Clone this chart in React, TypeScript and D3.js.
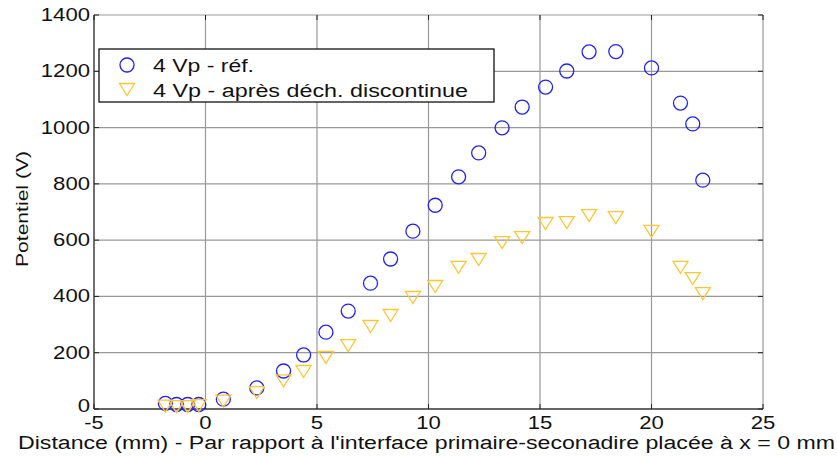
import * as d3 from "d3";

// distance (mm) of each measurement point
const distances = [-1.8, -1.3, -0.8, -0.3, 0.8, 2.3, 3.5, 4.4, 5.4, 6.4, 7.4, 8.3, 9.3,
  10.3, 11.35, 12.25, 13.3, 14.2, 15.25, 16.2, 17.2, 18.4, 20.0, 21.3, 21.85, 22.3];

// 4 Vp - réf.
const refValues = [20, 16, 16, 16, 35, 75, 135, 192, 273, 348, 447, 533, 632,
  724, 825, 910, 999, 1073, 1144, 1201, 1269, 1270, 1212, 1087, 1013, 813];

// 4 Vp - après déch. discontinue
const afterValues = [12, 10, 10, 14, 30, 60, 102, 135, 185, 227, 295, 334, 398,
  437, 505, 533, 593, 611, 661, 664, 689, 682, 633, 505, 465, 412];

const xTicks = [-5, 0, 5, 10, 15, 20, 25];
const yTicks = [0, 200, 400, 600, 800, 1000, 1200, 1400];

const legendLabels = ["4 Vp - réf.", "4 Vp - après déch. discontinue"];

const W = 837;
const H = 457;
const BLUE = "#2020ff";
const YELLOW = "#ffc633";
const FONT = "'Liberation Sans', Arial, sans-serif";

// width of a tick label, the picture's glyphs are a bit wider than the font
const labelWidth = (t: number) => {
  const s = String(t);
  return s.replace("-", "").length * 12.3 + (s.startsWith("-") ? 7 : 0);
};

export default function App() {
  const x = d3.scaleLinear().domain([-5, 25]).range([94, 763]);
  const y = d3.scaleLinear().domain([0, 1400]).range([409, 15]);
  const [x0, x1] = x.range();
  const [y0, y1] = y.range();

  const tri = (cx: number, cy: number) =>
    `M${cx - 7.5},${cy - 5.5}L${cx + 7.5},${cy - 5.5}L${cx},${cy + 6.5}Z`;

  const txt = (size: number) => ({ fontSize: `${size}px`, fontFamily: FONT });

  return (
    <svg width={W} height={H} style={{ position: "absolute", left: 0, top: 0, background: "#fff" }}>
      {/* grid */}
      {xTicks.slice(1, -1).map(t => (
        <line key={"gx" + t} x1={x(t)} x2={x(t)} y1={y1} y2={y0} stroke="#999" strokeWidth={1.2} />
      ))}
      {yTicks.slice(1, -1).map(t => (
        <line key={"gy" + t} x1={x0} x2={x1} y1={y(t)} y2={y(t)} stroke="#999" strokeWidth={1.2} />
      ))}
      {/* frame */}
      <line x1={x0} x2={x1} y1={y1} y2={y1} stroke="#999" strokeWidth={1.2} />
      <line x1={x1} x2={x1} y1={y1} y2={y0} stroke="#999" strokeWidth={1.2} />
      <line x1={x0} x2={x1} y1={y0} y2={y0} stroke="#333" strokeWidth={1.4} />
      <line x1={x0} x2={x0} y1={y1} y2={y0} stroke="#333" strokeWidth={1.4} />
      {/* ticks */}
      {xTicks.map(t => (
        <g key={"tx" + t}>
          <line x1={x(t)} x2={x(t)} y1={y0} y2={y0 - 5} stroke="#222" />
          <line x1={x(t)} x2={x(t)} y1={y1} y2={y1 + 5} stroke="#222" />
          <text x={x(t)} y={y0 + 20} style={txt(19)} textAnchor="middle" fill="#111"
            textLength={labelWidth(t)} lengthAdjust="spacingAndGlyphs">{t}</text>
        </g>
      ))}
      {yTicks.map(t => (
        <g key={"ty" + t}>
          <line x1={x0} x2={x0 + 5} y1={y(t)} y2={y(t)} stroke="#222" />
          <line x1={x1} x2={x1 - 5} y1={y(t)} y2={y(t)} stroke="#222" />
          <text x={x0 - 4} y={y(t) + (t === 0 ? 3 : 6)} style={txt(19)} textAnchor="end" fill="#111"
            textLength={labelWidth(t)} lengthAdjust="spacingAndGlyphs">{t}</text>
        </g>
      ))}
      {/* axis labels */}
      <text x={18} y={449} style={txt(18)} fill="#111" textLength={817} lengthAdjust="spacingAndGlyphs">
        Distance (mm) - Par rapport à l'interface primaire-seconadire placée à x = 0 mm
      </text>
      <text transform="translate(28,209) rotate(-90)" style={txt(17)} textAnchor="middle" fill="#111"
        textLength={116} lengthAdjust="spacingAndGlyphs">
        Potentiel (V)
      </text>
      {/* data */}
      {distances.map((d, i) => (
        <circle key={"c" + i} cx={x(d)} cy={y(refValues[i])} r={7} fill="none" stroke={BLUE} strokeWidth={1.3} />
      ))}
      {distances.map((d, i) => (
        <path key={"t" + i} d={tri(x(d), y(afterValues[i]))} fill="none" stroke={YELLOW} strokeWidth={1.3} />
      ))}
      {/* legend */}
      <rect x={99} y={49} width={395} height={53} fill="#fff" stroke="#111" strokeWidth={1.3} />
      <circle cx={127} cy={65} r={7} fill="none" stroke={BLUE} strokeWidth={1.3} />
      <path d={tri(127, 89)} fill="none" stroke={YELLOW} strokeWidth={1.3} />
      <text x={153} y={72} style={txt(18)} fill="#111" textLength={101} lengthAdjust="spacingAndGlyphs">
        {legendLabels[0]}
      </text>
      <text x={153} y={97} style={txt(18)} fill="#111" textLength={315} lengthAdjust="spacingAndGlyphs">
        {legendLabels[1]}
      </text>
    </svg>
  );
}
